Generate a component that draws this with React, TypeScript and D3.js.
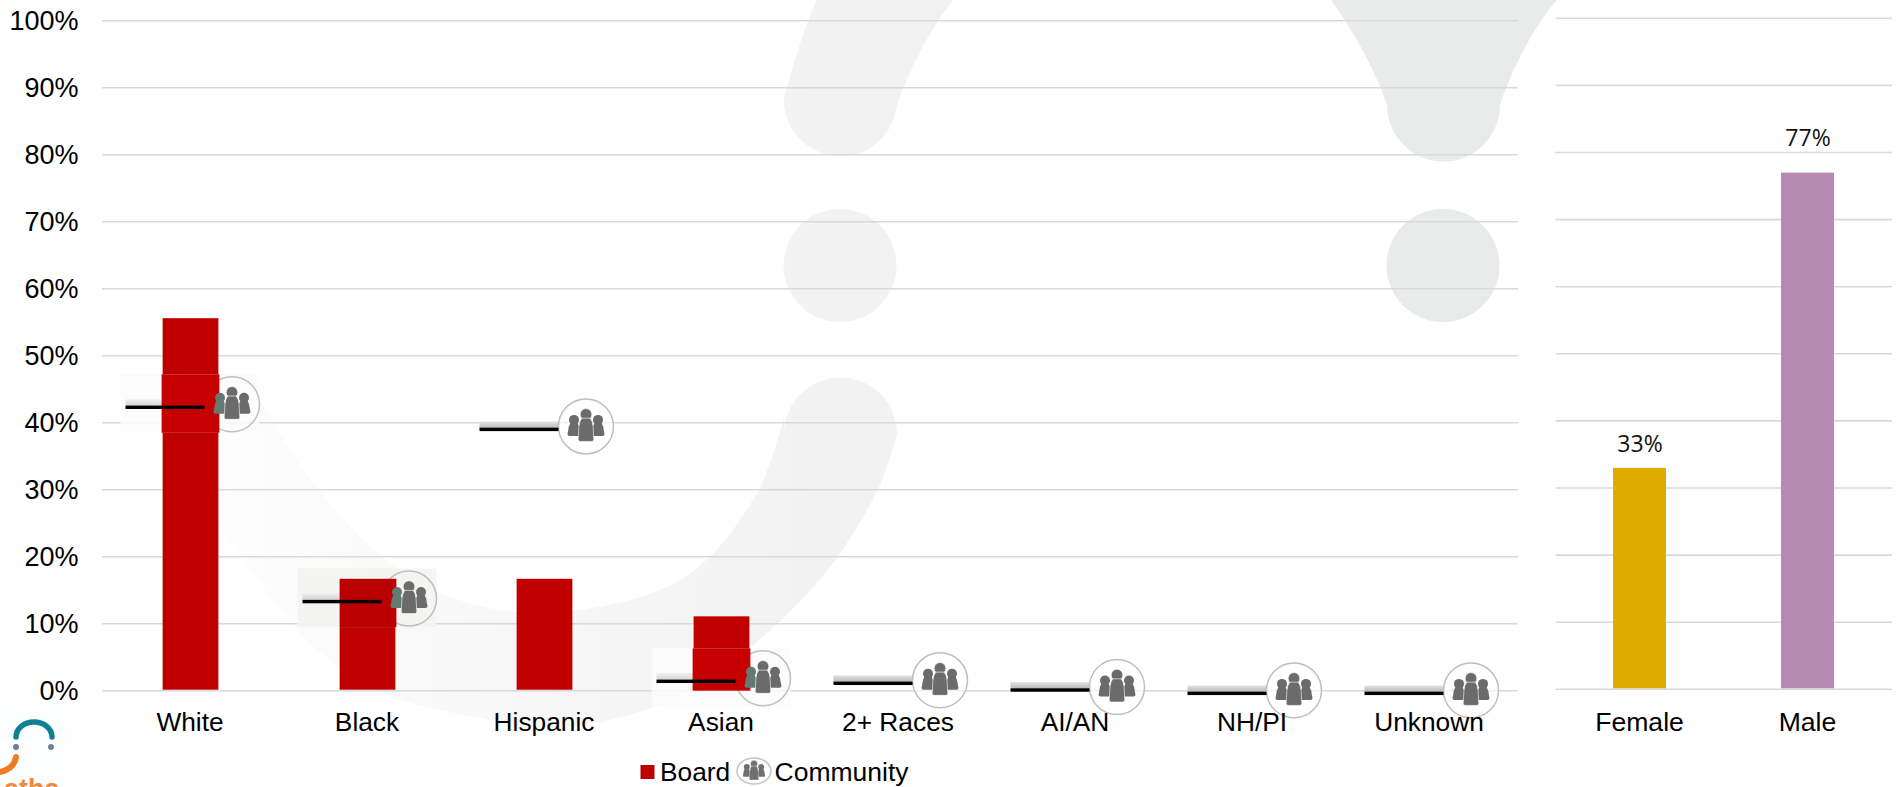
import React from "react";
import * as d3 from "d3";

// Race / ethnicity panel
const raceCategories = ["White", "Black", "Hispanic", "Asian", "2+ Races", "AI/AN", "NH/PI", "Unknown"];
const boardShare = [55.6, 16.7, 16.7, 11.1, 0, 0, 0, 0];
const communityShare = [42.3, 13.3, 39, 1.4, 1.1, 0.1, -0.4, -0.4];
// Markers that sit on a pasted, slightly off-white tile
const tiledMarkers = ["White", "Black", "Asian"];

// Gender panel
const genderCategories = ["Female", "Male"];
const genderShare = [33, 77];
const genderColors = ["#deac00", "#b48ab3"];
const genderLabelGaps = [16, 27];

const percentTicks = d3.range(0, 101, 10);

const FONT = "'Liberation Sans', Arial, sans-serif";
const GRID = "#d9d9d9";
const RED = "#c00000";

const yLeft = d3.scaleLinear().domain([0, 100]).range([690.7, 20.7]);
const yRight = d3.scaleLinear().domain([0, 100]).range([689.3, 18.3]);
const xLeft = d3.scaleBand<string>().domain(raceCategories).range([102, 1518]).paddingInner(0.685).paddingOuter(0.3425);
const xRight = d3.scaleBand<string>().domain(genderCategories).range([1555.5, 1891.5]).paddingInner(0.685).paddingOuter(0.3425);

const smooth = d3.line().curve(d3.curveCatmullRom);

// Backdrop crescent outline, outer edge then inner edge
const crescentOuter: [number, number][] = [[897, 434], [879, 487], [830, 567], [767, 633], [685, 693], [610, 720], [540, 727], [480, 718], [383, 693], [307, 640], [218, 522]];
const crescentInner: [number, number][] = [[258, 397], [321, 493], [404, 573], [480, 606], [564, 612], [685, 577], [757, 493], [784, 417]];
const crescentPath =
  "M784,434 A56.5,56.5 0 0 1 897,434 L" + smooth(crescentOuter)!.slice(1) +
  " L215,380 L" + smooth(crescentInner)!.slice(1) + " Z";

function People({ leftFill = "#6b6b6b", fill = "#6b6b6b" }: { leftFill?: string; fill?: string }) {
  // One pawn-like figure: head plus a body that widens towards the base
  const figure = (dx: number, head: number, r: number, hw: number, bottom: number, color: string) => (
    <g fill={color}>
      <circle cx={dx} cy={head} r={r} />
      <path
        d={`M${dx - hw * 0.55},${head + r - 2} L${dx + hw * 0.55},${head + r - 2}
            Q${dx + hw * 0.85},${head + r + 1} ${dx + hw * 0.9},${head + r + 6}
            L${dx + hw},${bottom - 2}
            Q${dx + hw},${bottom} ${dx + hw - 2},${bottom}
            L${dx - hw + 2},${bottom}
            Q${dx - hw},${bottom} ${dx - hw},${bottom - 2}
            L${dx - hw * 0.9},${head + r + 6}
            Q${dx - hw * 0.85},${head + r + 1} ${dx - hw * 0.55},${head + r - 2} Z`}
      />
    </g>
  );
  return (
    <g>
      {figure(-12, -6.5, 5, 6.5, 9.5, leftFill)}
      {figure(12, -6.5, 5, 6.5, 9.5, fill)}
      <g stroke="#fff" strokeWidth={0.6}>{figure(0, -12, 5.8, 7.8, 15, fill)}</g>
    </g>
  );
}

function CommunityMarker({ category, value }: { category: string; value: number }) {
  const band = xLeft(category)! + xLeft.bandwidth() / 2;
  const y = yLeft(value);
  const tiled = tiledMarkers.includes(category);
  const barTop = yLeft(boardShare[raceCategories.indexOf(category)]);
  const barLeft = xLeft(category)!;
  const tileTop = y - 33;
  const tileBottom = Math.min(y + 25.5, 707);
  const isBlack = category === "Black";
  const redTop = Math.max(tileTop, barTop);
  const iconX = band + 41.5;
  const iconY = y - 3;
  return (
    <g>
      {tiled && (
        <rect x={band - 70} y={tileTop} width={139} height={tileBottom - tileTop}
          fill={isBlack ? "#f3f3f2" : "#fcfcfc"} opacity={isBlack ? 0.95 : 0.85} />
      )}
      <rect x={band - 65} y={y - 8} width={79} height={7} fill="url(#dashShadow)" opacity={tiled ? 0.55 : 1} />
      <circle cx={iconX} cy={iconY} r={27.5} fill="#fff" fillOpacity={tiled ? 0 : 0.6} stroke="#bfbfbf" strokeWidth={1.5} />
      {/* The tile repaints the part of the bar it covers, hiding the ring there */}
      {tiled && (
        <rect x={barLeft - (isBlack ? 0 : 1)} y={redTop} width={xLeft.bandwidth() + (isBlack ? 1 : 2)}
          height={Math.min(tileBottom, yLeft(0)) - redTop} fill={isBlack ? "#ba0000" : "#c60000"} />
      )}
      <rect x={band - 65} y={y - 1.7} width={79} height={3.4} fill="#000" />
      <g transform={`translate(${iconX},${iconY})`}>
        <People leftFill={tiled ? "#627a72" : "#6b6b6b"} />
      </g>
    </g>
  );
}

export default function App() {
  return (
    <svg width={1902} height={787} viewBox="0 0 1902 787"
      style={{ position: "absolute", left: 0, top: 0, display: "block", background: "#fff" }}>
      <defs>
        <linearGradient id="backdrop" gradientUnits="userSpaceOnUse" x1={200} y1={0} x2={1500} y2={0}>
          <stop offset="0" stopColor="#fdfdfd" />
          <stop offset="0.3" stopColor="#f6f6f6" />
          <stop offset="0.5" stopColor="#f2f2f2" />
          <stop offset="0.7" stopColor="#f0f0f0" />
          <stop offset="0.9" stopColor="#e9eaea" />
        </linearGradient>
        <linearGradient id="dashShadow" x1={0} y1={0} x2={0} y2={1}>
          <stop offset="0" stopColor="#e4e4e4" />
          <stop offset="1" stopColor="#b4b4b4" />
        </linearGradient>
      </defs>

      {/* Large pale emblem behind the plot */}
      <g fill="url(#backdrop)">
        <path d="M817,0 C806,20 789,80 784,97 A56.5,56.5 0 0 0 896,110 C902,87 925,35 953,0 Z" />
        <path d="M1331,0 C1350,25 1378,75 1387,105 A56.5,56.5 0 0 0 1500,105 C1508,80 1530,30 1557,0 Z" />
        <circle cx={840} cy={265.5} r={56.5} />
        <circle cx={1443} cy={265.5} r={56.5} />
        <path d={crescentPath} />
      </g>

      {/* Gridlines */}
      {percentTicks.map((t) => (
        <line key={`l${t}`} x1={102} x2={1518} y1={yLeft(t)} y2={yLeft(t)} stroke={GRID} strokeWidth={1.6} />
      ))}
      {percentTicks.map((t) => (
        <line key={`r${t}`} x1={1555.5} x2={1892} y1={yRight(t)} y2={yRight(t)} stroke={GRID} strokeWidth={1.6} />
      ))}

      {/* Y axis labels */}
      <g fontFamily={FONT} fontSize={27} fill="#000" textAnchor="end">
        {percentTicks.map((t) => (
          <text key={t} x={78.5} y={yLeft(t) + 9.5}>{`${t}%`}</text>
        ))}
      </g>

      {/* Board bars */}
      {raceCategories.map((c, i) =>
        boardShare[i] > 0 ? (
          <rect key={c} x={xLeft(c)} width={xLeft.bandwidth()} y={yLeft(boardShare[i])}
            height={yLeft(0) - 1 - yLeft(boardShare[i])} fill={RED} />
        ) : null
      )}

      {/* Community markers */}
      {raceCategories.map((c, i) => (
        <CommunityMarker key={c} category={c} value={communityShare[i]} />
      ))}

      {/* Category labels */}
      <g fontFamily={FONT} fontSize={26.3} fill="#000" textAnchor="middle">
        {raceCategories.map((c) => (
          <text key={c} x={xLeft(c)! + xLeft.bandwidth() / 2 - 0.5} y={730.5}>{c}</text>
        ))}
      </g>
      <g fontFamily={FONT} fontSize={26.6} fill="#000" textAnchor="middle">
        {genderCategories.map((c) => (
          <text key={c} x={xRight(c)! + xRight.bandwidth() / 2} y={730.5}>{c}</text>
        ))}
      </g>

      {/* Gender bars with value labels */}
      {genderCategories.map((c, i) => (
        <g key={c}>
          <rect x={xRight(c)} width={xRight.bandwidth()} y={yRight(genderShare[i])}
            height={yRight(0) - 1 - yRight(genderShare[i])} fill={genderColors[i]} />
          <text x={xRight(c)! + xRight.bandwidth() / 2 + 0.5} y={yRight(genderShare[i]) - genderLabelGaps[i]}
            textAnchor="middle" fontFamily="'Open Sans', sans-serif" fontSize={23} fill="#111">
            {`${genderShare[i]}%`}
          </text>
        </g>
      ))}

      {/* Legend */}
      <rect x={640.5} y={765} width={14} height={14} fill={RED} />
      <text x={660} y={781} fontFamily={FONT} fontSize={26.3} fill="#000">Board</text>
      <g transform="translate(754,771)">
        <ellipse rx={17} ry={13} fill="#fff" stroke="#c4c4c4" strokeWidth={1.5} />
        <g transform="scale(0.6,0.6)"><People fill="#707070" leftFill="#707070" /></g>
      </g>
      <text x={774.5} y={781} fontFamily={FONT} fontSize={26.5} fill="#000">Community</text>

      {/* Organisation mark, cut off by the bottom edge */}
      <rect x={0} y={713} width={73} height={74} fill="#fdfefe" />
      <path d="M16,737 A18,15 0 0 1 52,737" fill="none" stroke="#0f7f94" strokeWidth={5.5} strokeLinecap="round" />
      <circle cx={16} cy={747} r={3} fill="#6f7f94" />
      <circle cx={51} cy={747} r={3} fill="#6f7f94" />
      <path d="M16,757 Q14,769 0,772" fill="none" stroke="#ef7b22" strokeWidth={6} strokeLinecap="round" />
      <text x={4} y={798} fontFamily={FONT} fontSize={27} fontWeight={700} fill="#ef8a3c">atha</text>
    </svg>
  );
}
